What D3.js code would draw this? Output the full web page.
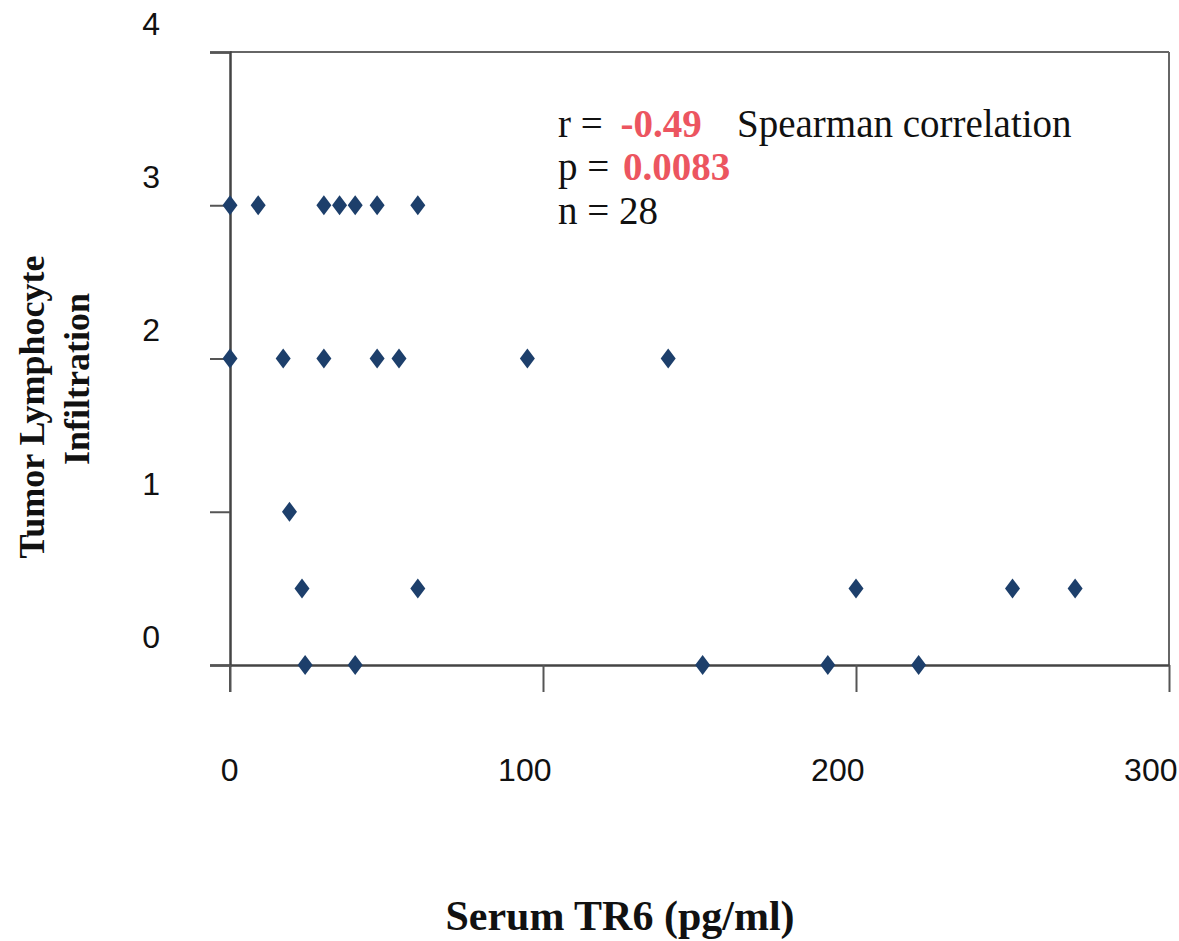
<!DOCTYPE html>
<html>
<head>
<meta charset="utf-8">
<script src="https://cdn.jsdelivr.net/npm/d3@7"></script>
<style>
  body { margin: 0; background: #fff; }
  .tick text { font-family: "Liberation Sans", Arial, sans-serif; font-size: 32px; fill: #111; }
  .title { font-family: "Liberation Serif", "Times New Roman", serif; font-weight: bold; fill: #111; }
  .note { font-family: "Liberation Serif", "Times New Roman", serif; font-size: 39px; fill: #111; }
  .red { fill: #ec5560; font-weight: bold; }
</style>
</head>
<body>
<div id="chart"></div>
<script>
// data: serum TR6 (pg/ml) vs infiltration score
const tr6 = [0, 9, 30, 35, 40, 47, 60,
             0, 17, 30, 47, 54, 95, 140,
             19,
             23, 60, 200, 250, 270,
             24, 40, 151, 191, 220];
const infiltration = [3, 3, 3, 3, 3, 3, 3,
                      2, 2, 2, 2, 2, 2, 2,
                      1,
                      0.5, 0.5, 0.5, 0.5, 0.5,
                      0, 0, 0, 0, 0];
const xTicks = [0, 100, 200, 300];
const yTicks = [0, 1, 2, 3, 4];

const margin = { top: 52, right: 10, bottom: 276, left: 230 };
const width = 1179, height = 941;

const svg = d3.select("#chart").append("svg")
    .attr("width", width)
    .attr("height", height);

const x = d3.scaleLinear().domain([0, 300]).range([margin.left, width - margin.right]);
const y = d3.scaleLinear().domain([0, 4]).range([height - margin.bottom, margin.top]);

// frame top/right
svg.append("line")
    .attr("x1", x(0)).attr("x2", x(300))
    .attr("y1", y(4)).attr("y2", y(4))
    .attr("stroke", "#666").attr("stroke-width", 2);
svg.append("line")
    .attr("x1", x(300)).attr("x2", x(300))
    .attr("y1", y(4)).attr("y2", y(0))
    .attr("stroke", "#666").attr("stroke-width", 2);

// y axis
const yAxis = svg.append("g")
    .attr("transform", `translate(${x(0)},0)`)
    .call(d3.axisLeft(y).tickValues(yTicks).tickSize(20).tickPadding(50).tickFormat(d3.format("d")));
yAxis.select(".domain").attr("stroke", "#444").attr("stroke-width", 2.5);
yAxis.selectAll(".tick line").attr("stroke", "#555").attr("stroke-width", 2);
yAxis.selectAll(".tick text").attr("y", -28).attr("fill", "#111");

// x axis
const xAxis = svg.append("g")
    .attr("transform", `translate(0,${y(0)})`)
    .call(d3.axisBottom(x).tickValues(xTicks).tickSize(27).tickSizeOuter(0));
xAxis.select(".domain").attr("stroke", "#444").attr("stroke-width", 2.5);
xAxis.selectAll(".tick line").attr("stroke", "#555").attr("stroke-width", 2);
xAxis.selectAll(".tick text")
    .attr("y", 93)
    .attr("x", 8)
    .attr("text-anchor", "end")
    .attr("fill", "#111");

// left axis continues below the x axis a little, like the original
svg.append("line")
    .attr("x1", x(0)).attr("x2", x(0))
    .attr("y1", y(0)).attr("y2", y(0) + 27)
    .attr("stroke", "#555").attr("stroke-width", 2);

// points
const diamond = "M0,-10L7.5,0L0,10L-7.5,0Z";
svg.append("g").selectAll("path")
    .data(tr6.map((v, i) => ({ v, s: infiltration[i] })))
    .join("path")
    .attr("d", diamond)
    .attr("transform", d => `translate(${x(d.v)},${y(d.s)})`)
    .attr("fill", "#1d3f6b");

// annotation
const note = svg.append("g").attr("class", "note");
const l1 = note.append("text").attr("x", 558).attr("y", 137);
l1.append("tspan").text("r = ");
l1.append("tspan").attr("class", "red").attr("dx", 8).text("-0.49");
note.append("text").attr("x", 737).attr("y", 137).text("Spearman correlation");
const l2 = note.append("text").attr("x", 558).attr("y", 180);
l2.append("tspan").text("p = ");
l2.append("tspan").attr("class", "red").attr("dx", 4).text("0.0083");
note.append("text").attr("x", 558).attr("y", 224).text("n = 28");

// axis titles
svg.append("text")
    .attr("class", "title")
    .attr("x", 620).attr("y", 930)
    .attr("text-anchor", "middle")
    .style("font-size", "42px")
    .text("Serum TR6 (pg/ml)");

svg.append("text")
    .attr("class", "title")
    .attr("transform", "translate(44,407) rotate(-90)")
    .attr("text-anchor", "middle")
    .style("font-size", "36px")
    .text("Tumor Lymphocyte");
svg.append("text")
    .attr("class", "title")
    .attr("transform", "translate(89,379) rotate(-90)")
    .attr("text-anchor", "middle")
    .style("font-size", "36px")
    .text("Infiltration");
</script>
</body>
</html>
